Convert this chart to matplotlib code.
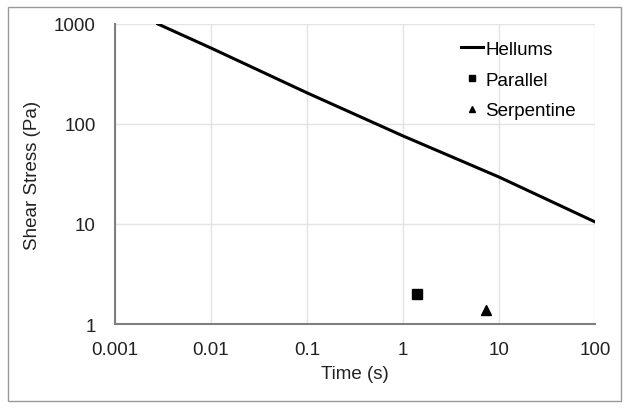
import matplotlib.pyplot as plt
from matplotlib.patches import Rectangle

plt.rcParams['font.family'] = ['Liberation Sans', 'DejaVu Sans']

# Hellums threshold curve
hellums_t = [0.0028, 0.01, 0.1, 1, 10, 100]
hellums_tau = [1000, 575, 205, 76, 29.5, 10.5]

# measured points
parallel_t = [1.4]
parallel_tau = [2.0]
serp_t = [7.4]
serp_tau = [1.38]

fig = plt.figure(figsize=(6.29, 4.10), dpi=100)
ax = fig.add_axes([115 / 629, 1 - 325 / 410, 480 / 629, 300 / 410])

ax.plot(hellums_t, hellums_tau, color='black', lw=2.2, label='Hellums')
ax.plot(parallel_t, parallel_tau, 's', color='black', ms=7, ls='none', label='Parallel')
ax.plot(serp_t, serp_tau, '^', color='black', ms=7, ls='none', label='Serpentine')

ax.set_xscale('log')
ax.set_yscale('log')
ax.set_xlim(0.001, 100)
ax.set_ylim(1, 1000)
ax.set_xticks([0.001, 0.01, 0.1, 1, 10, 100])
ax.set_xticklabels(['0.001', '0.01', '0.1', '1', '10', '100'])
ax.set_yticks([1, 10, 100, 1000])
ax.set_yticklabels(['1', '10', '100', '1000'])
ax.minorticks_off()
ax.tick_params(length=0, labelsize=13.5, colors='#222222')
ax.tick_params(axis='x', pad=12)
ax.tick_params(axis='y', pad=14)
ax.grid(True, color='#e3e3e3', lw=1)
ax.set_axisbelow(True)
for s in ['top', 'right']:
    ax.spines[s].set_visible(False)
for s in ['left', 'bottom']:
    ax.spines[s].set_color('#7f7f7f')
    ax.spines[s].set_linewidth(1.5)

ax.set_xlabel('Time (s)', fontsize=13.5, color='#222222', labelpad=5)
ax.set_ylabel('Shear Stress (Pa)', fontsize=13.5, color='#222222', labelpad=9)

ax.legend(loc='upper right', frameon=False, fontsize=13.5, handlelength=1.2,
          handletextpad=0.1, labelspacing=0.72, markerscale=0.7,
          bbox_to_anchor=(0.995, 1.0))

fig.patches.append(Rectangle((8 / 629, 8 / 410), 613 / 629, 394 / 410,
                             transform=fig.transFigure, fill=False,
                             edgecolor='#9a9a9a', lw=1))

fig.savefig('out.png', dpi=100)
